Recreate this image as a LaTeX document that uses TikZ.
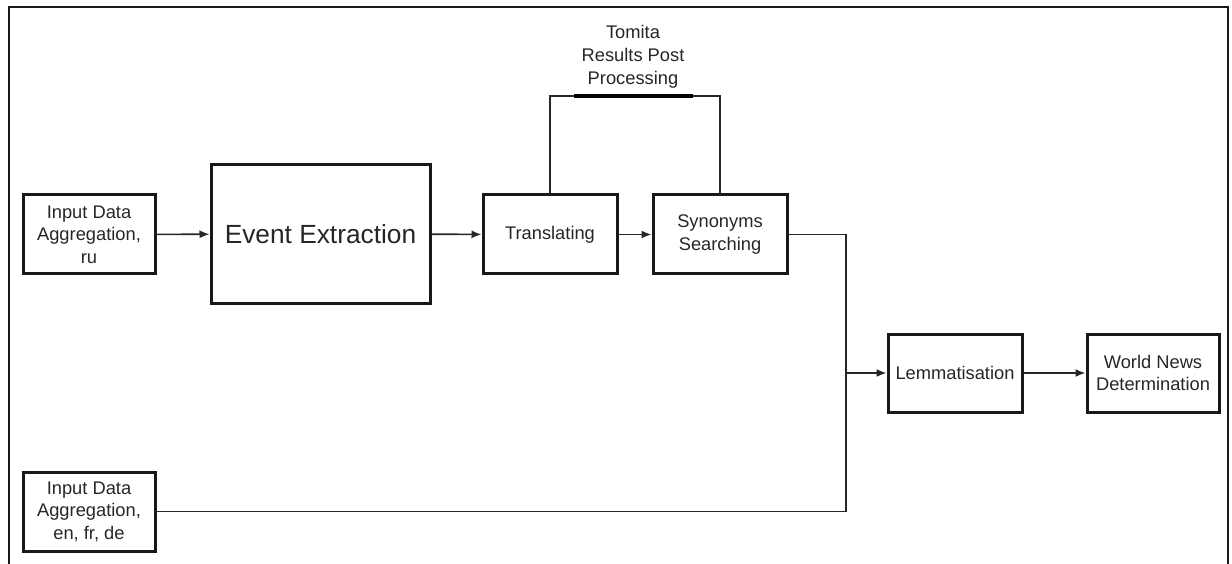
\documentclass[tikz,border=0pt]{standalone}
\usepackage{fontspec}
\setmainfont{Liberation Sans}
\usetikzlibrary{arrows.meta}
\begin{document}
\begin{tikzpicture}[x=1pt,y=-1pt,
  box/.style={draw=black!90,line width=3pt,inner sep=0pt,align=center,
    text=black!85,font=\fontsize{18.3}{22.5}\selectfont},
  conn/.style={draw=black!85,line width=1.6pt},
  arr/.style={conn,-{Latex[length=10pt,width=8pt]}}]
\useasboundingbox (0,0) rectangle (1232,564);
\draw[line width=2pt,black!90] (9,564) -- (9,7) -- (1228,7) -- (1228,564);
\node[box,minimum width=132pt,minimum height=79pt] (ru) at (89,234.5) {Input Data\\Aggregation,\\ru};
\node[box,minimum width=219pt,minimum height=138pt,font=\fontsize{26.3}{30}\selectfont] (ev) at (320.5,234) {Event Extraction};
\node[box,minimum width=134pt,minimum height=79pt] (tr) at (550,234.5) {Translating};
\node[box,minimum width=134pt,minimum height=79pt] (syn) at (720,234.5) {Synonyms\\Searching};
\node[box,minimum width=134pt,minimum height=78pt] (lem) at (955,373) {Lemmatisation};
\node[box,minimum width=132pt,minimum height=78pt] (wn) at (1153,373) {World News\\Determination};
\node[box,minimum width=132pt,minimum height=79pt] (en) at (89,511.5) {Input Data\\Aggregation,\\en, fr, de};
\node[align=center,inner sep=0pt,text=black!85,font=\fontsize{18.3}{23}\selectfont] (tom) at (633,57) {Tomita\\Results Post\\Processing};
\coordinate (b1) at (574,96);
\coordinate (b2) at (693,96);
\coordinate (j) at (846,373);
\draw[arr] (ru) -- (ev);
\draw[arr] (ev) -- (tr);
\draw[arr] (tr) -- (syn);
\draw[conn] (tr.north) |- (b1) -- (b2) -| (syn.north);
\draw[line width=3.4pt,black] (b1) -- (b2);
\draw[conn] (syn.east) -| (j) |- (en.east);
\draw[arr] (j) -- (lem);
\draw[arr] (lem) -- (wn);
\end{tikzpicture}
\end{document}
